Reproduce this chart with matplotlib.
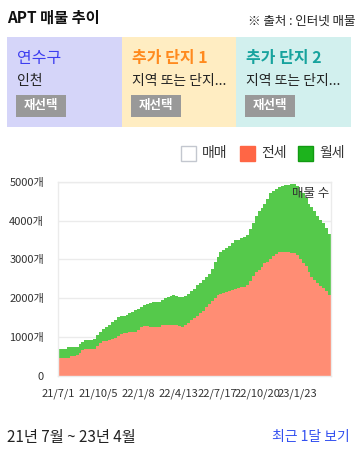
import numpy as np
import pandas as pd
import matplotlib
matplotlib.use("Agg")
import matplotlib.pyplot as plt
import matplotlib.dates as mdates
from matplotlib.patches import Rectangle

plt.rcParams['font.family'] = ['Noto Sans CJK KR', 'DejaVu Sans']

# ---------------- data ----------------
start_date = "2021-07-01"
step_days = 7
jeonse = [470, 470, 470, 470, 520, 525, 550, 590, 665, 685, 690, 690, 700, 780, 850, 890,
          910, 925, 950, 985, 1040, 1080, 1100, 1115, 1135, 1137, 1140, 1195, 1260, 1285,
          1290, 1255, 1260, 1265, 1265, 1300, 1325, 1320, 1310, 1305, 1300, 1285, 1265,
          1310, 1370, 1430, 1495, 1555, 1615, 1680, 1765, 1845, 1930, 2000, 2075, 2115,
          2140, 2165, 2190, 2215, 2250, 2270, 2280, 2290, 2340, 2440, 2565, 2670, 2740,
          2810, 2900, 2945, 3000, 3080, 3150, 3180, 3190, 3190, 3190, 3160, 3175, 3120,
          3000, 2920, 2830, 2670, 2550, 2475, 2400, 2315, 2255, 2180, 2080]
wolse = [220, 220, 230, 270, 225, 220, 195, 240, 215, 240, 235, 235, 255, 270, 280, 310,
         340, 385, 440, 465, 470, 460, 455, 460, 480, 518, 555, 535, 510, 545, 575, 625,
         635, 641, 641, 660, 690, 710, 755, 785, 750, 750, 770, 755, 750, 755, 755, 775,
         780, 785, 775, 785, 830, 945, 1000, 1075, 1110, 1140, 1165, 1205, 1250, 1230,
         1265, 1295, 1300, 1340, 1365, 1460, 1495, 1520, 1535, 1615, 1700, 1680, 1675,
         1685, 1700, 1730, 1733, 1770, 1775, 1760, 1770, 1780, 1750, 1750, 1790, 1760,
         1710, 1705, 1680, 1630, 1570]
tick_labels = ["21/7/1", "21/10/5", "22/1/8", "22/4/13", "22/7/17", "22/10/20", "23/1/23"]
y_ticks = [0, 1000, 2000, 3000, 4000, 5000]
legend_labels = ["매매", "전세", "월세"]

# ---------------- figure ----------------
W, H = 360, 450
fig = plt.figure(figsize=(W / 100, H / 100), dpi=100)
fig.patch.set_facecolor("white")

def fx(x):
    return x / W

def fy(y):
    return 1 - y / H

def rect(x0, y0, x1, y1, fc, ec="none", lw=0):
    fig.add_artist(Rectangle((fx(x0), fy(y1)), (x1 - x0) / W, (y1 - y0) / H,
                             transform=fig.transFigure, facecolor=fc, edgecolor=ec, lw=lw))

# header
fig.text(fx(7), fy(17.5), "APT 매물 추이", fontsize=11, fontweight="bold", color="#111111",
         ha="left", va="center")
fig.text(fx(356), fy(21), "※ 출처 : 인터넷 매물", fontsize=9, fontweight="medium",
         color="#222222", ha="right", va="center")

# panels
panels = [
    (7, 122, "#D5D5F9", "연수구", "#3D3DF0", "normal", "인천"),
    (122, 236, "#FFEDC2", "추가 단지 1", "#FF8A1E", "bold", "지역 또는 단지..."),
    (236, 351, "#D2F0EE", "추가 단지 2", "#17A39E", "bold", "지역 또는 단지..."),
]
for x0, x1, bg, title, tc, tw, sub in panels:
    rect(x0, 37, x1, 127, bg)
    fig.text(fx(x0 + 10), fy(58), title, fontsize=11.5, color=tc, fontweight=tw,
             ha="left", va="center")
    fig.text(fx(x0 + 10), fy(81.5), sub, fontsize=10, color="#222222",
             ha="left", va="center")
    rect(x0 + 9, 95, x0 + 59, 117, "#999999")
    fig.text(fx(x0 + 34), fy(106), "재선택", fontsize=9, color="white", fontweight="bold",
             ha="center", va="center")

# legend
leg_items = [
    (181, "white", "#C3C7CF", legend_labels[0]),
    (240, "#FF6645", "#FF6645", legend_labels[1]),
    (298, "#1DB31D", "#129A12", legend_labels[2]),
]
for lx, fc, ec, lab in leg_items:
    rect(lx, 145.5, lx + 15, 160.5, fc, ec, 1)
    fig.text(fx(lx + 21), fy(153), lab, fontsize=10, color="#333333", ha="left", va="center")

# ---------------- chart ----------------
ax = fig.add_axes([fx(58), fy(376), 273 / W, (376 - 181.7) / H])
dates = pd.date_range(start_date, periods=len(jeonse), freq=f"{step_days}D")
xs = mdates.date2num(dates.to_pydatetime())
xe = np.append(xs, xs[-1] + step_days)
j = np.array(jeonse, dtype=float)
t = j + np.array(wolse, dtype=float)
je = np.append(j, j[-1])
te = np.append(t, t[-1])

ax.fill_between(xe, 0, je, step="post", color="#FF8D74", lw=0, zorder=2)
ax.fill_between(xe, je, te, step="post", color="#55C94B", lw=0, zorder=2)

ax.set_xlim(xe[0], xe[-1])
ax.set_ylim(0, 5000)
ax.set_yticks(y_ticks)
ax.set_yticklabels([("%d개" % v) if v else "0" for v in y_ticks])
tick_dates = [pd.to_datetime(s, format="%y/%m/%d") for s in tick_labels]
ax.set_xticks(mdates.date2num([d.to_pydatetime() for d in tick_dates]))
ax.set_xticklabels(tick_labels)
ax.tick_params(axis="y", length=0, pad=10, labelsize=8, labelcolor="#333333")
ax.tick_params(axis="x", length=0, pad=9, labelsize=8, labelcolor="#333333")
ax.grid(axis="y", color="#EBEBEB", lw=1, zorder=1)
ax.set_axisbelow(True)
for s in ax.spines.values():
    s.set_color("#EBEBEB")
    s.set_linewidth(1)
ax.text(0.995, 0.94, "매물 수", transform=ax.transAxes, ha="right", va="center",
        fontsize=9, color="#333333", zorder=5)

# footer
fig.text(fx(7), fy(437.5), "21년 7월 ~ 23년 4월", fontsize=11, color="#222222",
         ha="left", va="center")
fig.text(fx(350), fy(437.5), "최근 1달 보기", fontsize=10, color="#3350F0",
         ha="right", va="center")

fig.savefig("out.png", dpi=100)
